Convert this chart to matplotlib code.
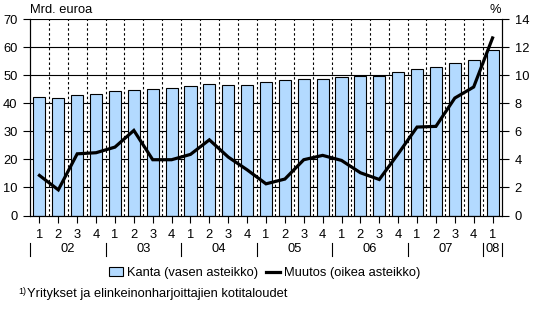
import matplotlib
matplotlib.use('Agg')
import matplotlib.pyplot as plt
import matplotlib.transforms as mtransforms
from matplotlib.lines import Line2D
from matplotlib.patches import Patch

plt.rcParams['font.family'] = ['Liberation Sans', 'DejaVu Sans']
plt.rcParams['font.size'] = 9.3

# Quarterly data 2002Q1 - 2008Q1
quarters = ['1', '2', '3', '4'] * 6 + ['1']
years = ['02', '03', '04', '05', '06', '07', '08']
kanta = [42.4, 42.0, 43.1, 43.5, 44.3, 44.6, 45.0, 45.4, 46.3, 47.0,
         46.7, 46.7, 47.5, 48.4, 48.6, 48.8, 49.3, 49.9, 49.9, 51.1,
         52.4, 53.1, 54.3, 55.6, 59.2]
muutos = [2.86, 1.83, 4.4, 4.48, 4.88, 6.07, 3.98, 3.98, 4.36, 5.4,
          4.17, 3.26, 2.26, 2.6, 3.98, 4.29, 3.93, 3.05, 2.57, 4.4,
          6.31, 6.36, 8.38, 9.17, 12.67]

bar_color = '#B3DAFF'
x = list(range(len(kanta)))

fig = plt.figure(figsize=(5.5, 3.33), dpi=100)
ax = fig.add_axes([30/550, 1 - 215.5/333, 472/550, 196.2/333])
ax2 = ax.twinx()

# Grid
for v in range(10, 71, 10):
    ax.axhline(v, color='black', lw=0.8, zorder=0)
for i in range(len(kanta) - 1):
    ax.axvline(i + 0.5, color='black', lw=0.8, ls=(0, (2.2, 2.2)), zorder=0)

ax.bar(x, kanta, width=0.64, color=bar_color, edgecolor='black', linewidth=0.8, zorder=2)
ax.set_xlim(-0.5, len(kanta) - 0.5)
ax.set_ylim(0, 70)
ax.set_yticks(range(0, 71, 10))

ax2.plot(x, muutos, color='black', lw=2.3, zorder=3, solid_joinstyle='miter')
ax2.set_ylim(0, 14)
ax2.set_yticks(range(0, 15, 2))
ax.set_zorder(ax2.get_zorder() - 1)
ax.patch.set_visible(False)

ax.set_xticks(x)
ax.set_xticklabels(quarters)
ax.tick_params(axis='x', length=5, width=0.8, pad=5)
ax.tick_params(axis='y', length=5, width=0.8, pad=4)
ax2.tick_params(axis='y', length=5, width=0.8, pad=4)
for a in (ax, ax2):
    for s in a.spines.values():
        s.set_linewidth(0.8)
    a.spines['top'].set_visible(False)

# Year labels and separators below quarter labels
trans = mtransforms.blended_transform_factory(ax.transData, ax.transAxes)
bounds = [-0.5, 3.5, 7.5, 11.5, 15.5, 19.5, 23.5, 24.5]
for b in bounds:
    ax.add_line(Line2D([b, b], [-0.14, -0.205], color='black', lw=0.8,
                       transform=trans, clip_on=False))
for k, yr in enumerate(years):
    ax.text((bounds[k] + bounds[k + 1]) / 2, -0.172, yr, transform=trans,
            ha='center', va='center')

fig.text(30/550, 1 - 10/333, 'Mrd. euroa', ha='left', va='center')
fig.text(495/550, 1 - 10/333, '%', ha='center', va='center')

handles = [Patch(facecolor=bar_color, edgecolor='black', linewidth=0.8),
           Line2D([], [], color='black', lw=2.3)]
fig.legend(handles, ['Kanta (vasen asteikko)', 'Muutos (oikea asteikko)'],
           loc='center', bbox_to_anchor=(265/550, 1 - 273/333), ncol=2,
           frameon=False, handlelength=1.1, handletextpad=0.3, columnspacing=0.6)

fig.text(18/550, 1 - 291/333, '1)', fontsize=6.5, ha='left', va='center')
fig.text(27/550, 1 - 294.5/333, 'Yritykset ja elinkeinonharjoittajien kotitaloudet',
         ha='left', va='center')

fig.savefig('out.png', dpi=100)
